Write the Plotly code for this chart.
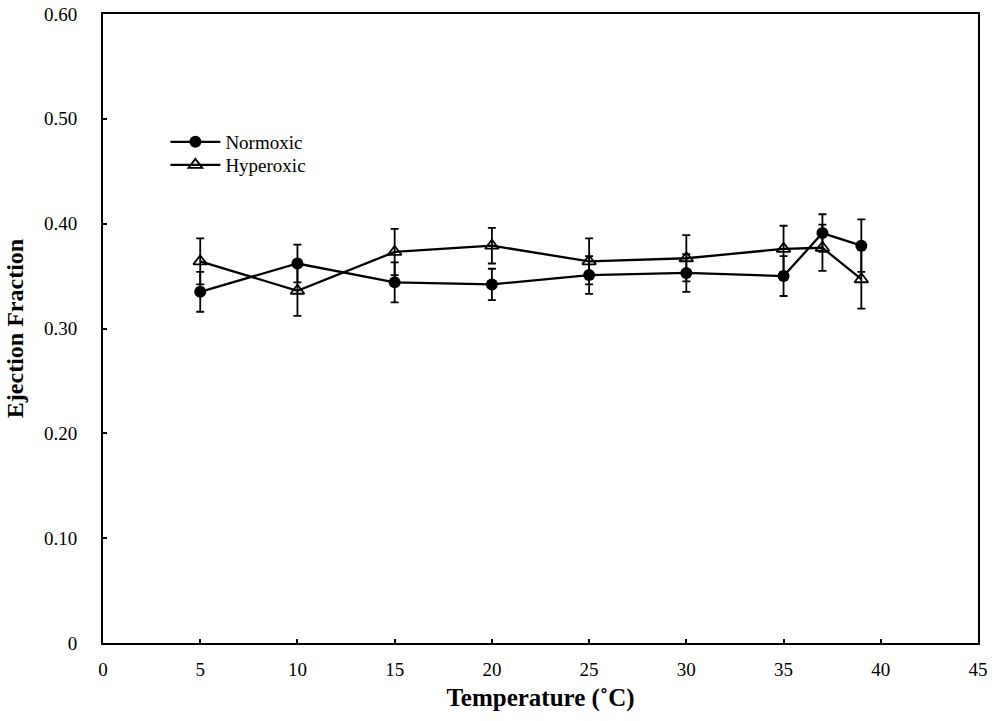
import plotly.graph_objects as go

temps = [5, 10, 15, 20, 25, 30, 35, 37, 39]
normoxic = [0.335, 0.362, 0.344, 0.342, 0.351, 0.353, 0.350, 0.391, 0.379]
normoxic_err = [0.019, 0.018, 0.019, 0.015, 0.018, 0.018, 0.019, 0.018, 0.025]
hyperoxic = [0.364, 0.336, 0.373, 0.379, 0.364, 0.367, 0.376, 0.377, 0.347]
hyperoxic_err = [0.022, 0.024, 0.022, 0.017, 0.022, 0.022, 0.022, 0.022, 0.028]

x_ticks = [0, 5, 10, 15, 20, 25, 30, 35, 40, 45]
y_ticks = [0, 0.1, 0.2, 0.3, 0.4, 0.5, 0.6]
y_ticktext = ["0", "0.10", "0.20", "0.30", "0.40", "0.50", "0.60"]

FONT = "Liberation Serif, Times New Roman, serif"

fig = go.Figure()
fig.add_trace(go.Scatter(
    x=temps, y=normoxic, name="Normoxic", mode="lines+markers",
    line=dict(color="black", width=2.3),
    marker=dict(symbol="circle", size=12, color="black"),
    error_y=dict(type="data", array=normoxic_err, color="black", thickness=1.8, width=4),
    legend="legend",
))
fig.add_trace(go.Scatter(
    x=temps, y=hyperoxic, name="Hyperoxic", mode="lines+markers",
    line=dict(color="black", width=2.3),
    marker=dict(symbol="triangle-up-open", size=12, color="black", line=dict(width=1.8, color="black")),
    error_y=dict(type="data", array=hyperoxic_err, color="black", thickness=1.8, width=4),
    legend="legend2",
))

leg_common = dict(xanchor="left", yanchor="middle", bgcolor="rgba(0,0,0,0)",
                  font=dict(family=FONT, size=19), itemwidth=50)

fig.update_layout(
    width=992, height=721,
    margin=dict(l=103, r=14, t=14, b=78, autoexpand=False),
    paper_bgcolor="white", plot_bgcolor="white",
    font=dict(family=FONT, size=19, color="black"),
    showlegend=True,
    legend=dict(x=0.0713, y=(643 - 142) / 629, **leg_common),
    legend2=dict(x=0.0713, y=(643 - 165) / 629, **leg_common),
    xaxis=dict(
        range=[0, 45], tickvals=x_ticks, showgrid=False, zeroline=False, automargin=False,
        showline=True, linecolor="black", linewidth=2, mirror=True,
        ticks="inside", ticklen=4, tickcolor="black", tickwidth=1.5,
        ticklabelstandoff=8,
        title=dict(text="<b>Temperature (˚C)</b>", font=dict(family=FONT, size=25), standoff=10),
    ),
    yaxis=dict(
        range=[0, 0.6], tickvals=y_ticks, ticktext=y_ticktext, showgrid=False, zeroline=False,
        automargin=False,
        showline=True, linecolor="black", linewidth=2, mirror=True,
        ticks="inside", ticklen=4, tickcolor="black", tickwidth=1.5,
        ticklabelstandoff=20,
        title=dict(text="<b>Ejection Fraction</b>", font=dict(family=FONT, size=24), standoff=14),
    ),
)

fig.write_html("out.html")
